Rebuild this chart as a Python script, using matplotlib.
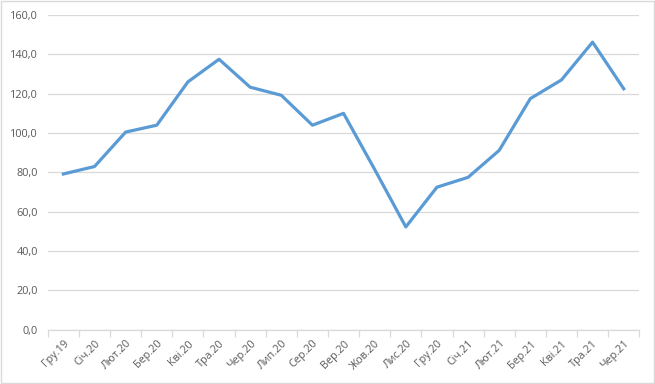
import matplotlib
matplotlib.use("Agg")
import matplotlib.pyplot as plt
import numpy as np

categories = ["Гру.19", "Січ.20", "Лют.20", "Бер.20", "Кві.20", "Тра.20", "Чер.20",
              "Лип.20", "Сер.20", "Вер.20", "Жов.20", "Лис.20", "Гру.20", "Січ.21",
              "Лют.21", "Бер.21", "Кві.21", "Тра.21", "Чер.21"]
values = [79.2, 83.0, 100.5, 104.0, 126.0, 137.5, 123.3, 119.2, 104.0, 110.0,
          81.5, 52.3, 72.5, 77.5, 91.2, 117.5, 127.0, 146.2, 122.5]
yticks = [0, 20, 40, 60, 80, 100, 120, 140, 160]

plt.rcParams['font.family'] = ['Open Sans', 'DejaVu Sans']

fig = plt.figure(figsize=(6.55, 3.84), dpi=100)
ax = fig.add_axes([0.073, 0.141, 0.903, 0.820])

x = np.arange(len(categories))
ax.plot(x, values, color="#5B9BD5", linewidth=2.3, solid_joinstyle="round", zorder=3)

ax.set_xlim(-0.5, len(categories) - 0.5)
ax.set_ylim(0, 160)
ax.set_yticks(yticks)
ax.set_yticklabels([f"{v:.1f}".replace(".", ",") for v in yticks], fontsize=7.8, color="#595959")
ax.grid(axis="y", color="#D9D9D9", linewidth=0.9, zorder=0)
ax.tick_params(axis="y", length=0, pad=7)

ax.set_xticks(x)
ax.set_xticklabels(categories, rotation=45, ha="right", rotation_mode="anchor",
                   fontsize=7.8, color="#595959")
ax.set_xticks(np.arange(-0.5, len(categories), 1), minor=True)
ax.tick_params(axis="x", which="major", length=0, pad=6)
ax.tick_params(axis="x", which="minor", length=5, color="#D9D9D9", width=0.9)

for s in ["top", "right", "left"]:
    ax.spines[s].set_visible(False)
ax.spines["bottom"].set_color("#D9D9D9")
ax.spines["bottom"].set_linewidth(0.9)

border = plt.Rectangle((0.001, 0.002), 0.997, 0.995, transform=fig.transFigure,
                       fill=False, edgecolor="#D9D9D9", linewidth=1)
fig.patches.append(border)

fig.savefig("out.png", dpi=100)
